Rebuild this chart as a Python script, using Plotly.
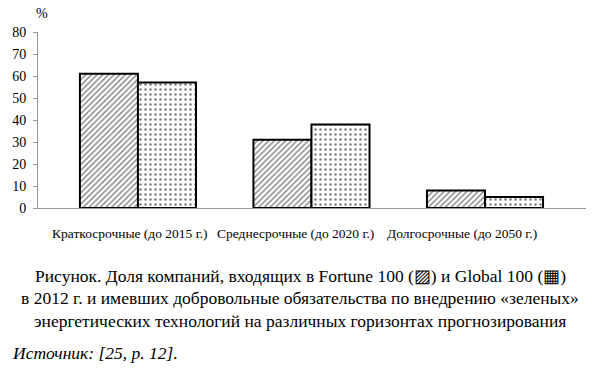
import plotly.graph_objects as go

categories = ["Краткосрочные (до 2015 г.)", "Среднесрочные (до 2020 г.)", "Долгосрочные (до 2050 г.)"]
fortune100 = [61, 31, 8]
global100 = [57, 38, 5]
y_ticks = [0, 10, 20, 30, 40, 50, 60, 70, 80]

SERIF = "Liberation Serif"

# plot area in pixels
PL, PR, PT, PB = 38, 586, 32, 208
W, H = 595, 372


def px(x):
    return (x - PL) / (PR - PL)


def py(y):
    return (PB - y) / (PB - PT)


fig = go.Figure()
fig.add_trace(go.Bar(
    x=categories, y=fortune100, name="Fortune 100",
    marker=dict(color="white", line=dict(color="black", width=2),
                pattern=dict(shape="/", fgcolor="black", bgcolor="white", size=4, solidity=0.35)),
))
fig.add_trace(go.Bar(
    x=categories, y=global100, name="Global 100",
    marker=dict(color="white", line=dict(color="black", width=2),
                pattern=dict(shape=".", fgcolor="black", bgcolor="white", size=5, solidity=0.2)),
))

label_shift = [-8, -16, -23]
for i, c in enumerate(categories):
    fig.add_annotation(x=c, y=0, xref="x", yref="paper", text=c, showarrow=False,
                       xshift=label_shift[i], yshift=-25, yanchor="middle",
                       font=dict(family=SERIF, size=13.5, color="black"))

caption = ["Рисунок. Доля компаний, входящих в Fortune 100 (▨) и Global 100 (▦)",
           "в 2012 г. и имевших добровольные обязательства по внедрению «зеленых»",
           "энергетических технологий на различных горизонтах прогнозирования"]
cap_y = [276, 298, 321]
for t, yy in zip(caption, cap_y):
    fig.add_annotation(x=px(300), y=py(yy), xref="paper", yref="paper", text=t,
                       showarrow=False, xanchor="center", yanchor="middle",
                       font=dict(family=SERIF, size=17.5, color="black"))
fig.add_annotation(x=px(10), y=py(353), xref="paper", yref="paper",
                   text="<i>Источник: [25, р. 12].</i>", showarrow=False,
                   xanchor="left", yanchor="middle",
                   font=dict(family=SERIF, size=17.5, color="black"))
fig.add_annotation(x=px(42), y=py(14), xref="paper", yref="paper", text="%",
                   showarrow=False, xanchor="center", yanchor="middle",
                   font=dict(family=SERIF, size=14, color="black"))

fig.update_layout(
    width=W, height=H,
    margin=dict(l=PL, r=W - PR, t=PT, b=H - PB),
    paper_bgcolor="white", plot_bgcolor="white",
    showlegend=False,
    font=dict(family=SERIF),
    barmode="group", bargap=0.331, bargroupgap=0,
    xaxis=dict(type="category", range=[-0.576, 2.582], showticklabels=False,
               showline=True, linecolor="#999999", linewidth=1, ticks="", showgrid=False,
               zeroline=False),
    yaxis=dict(range=[0, 80], tickvals=y_ticks, ticks="outside", ticklen=4,
               tickcolor="#999999", showline=True, linecolor="#999999", linewidth=1,
               showgrid=False, zeroline=False, ticklabelstandoff=4,
               tickfont=dict(family=SERIF, size=14, color="black")),
)
fig.write_html("out.html")
